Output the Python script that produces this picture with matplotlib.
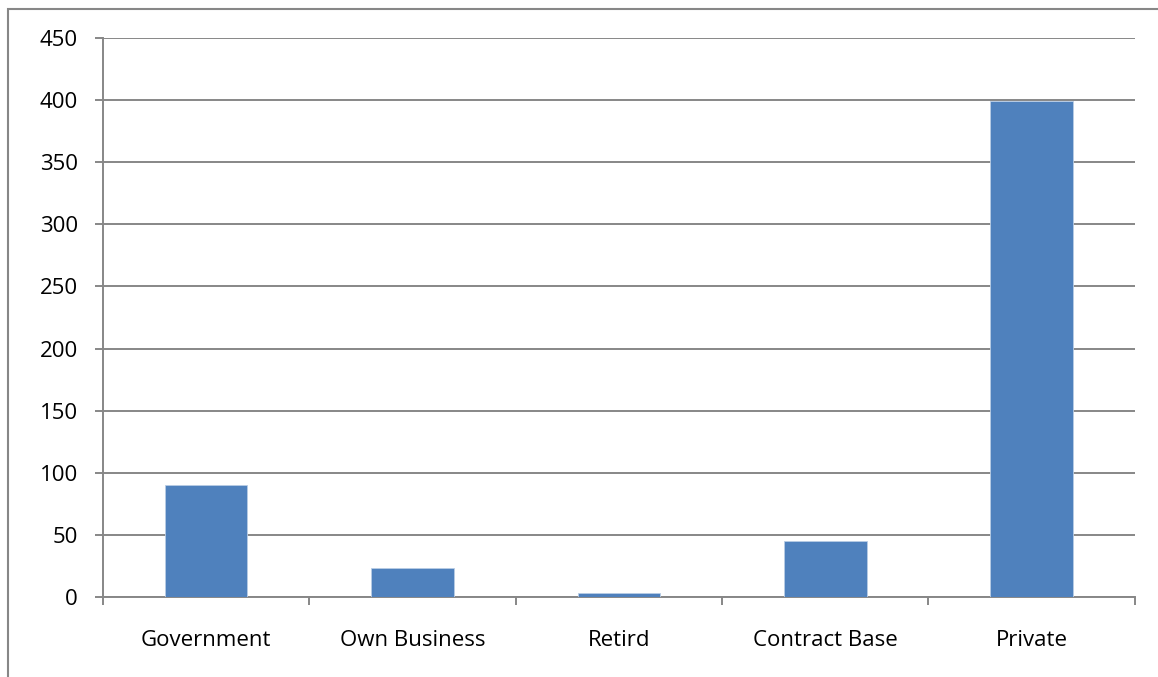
import numpy as np
import matplotlib.pyplot as plt
from matplotlib.patches import Rectangle

plt.rcParams['font.family'] = ['Open Sans', 'DejaVu Sans']

categories = ['Government', 'Own Business', 'Retird', 'Contract Base', 'Private']
counts = [90, 23, 3, 45, 399]

grey = '#878787'
bar_color = '#4f81bd'

fig = plt.figure(figsize=(11.58, 6.77), dpi=100)
ax = fig.add_axes([0.0889, 0.1182, 0.8911, 0.8257])

# outer chart frame
fig.patches.append(Rectangle((8 / 1158, -0.05), 1.2, 1 - 9 / 677 + 0.05,
                             transform=fig.transFigure, fill=False,
                             edgecolor=grey, linewidth=1.5))

x = np.arange(len(categories))
ax.bar(x, counts, width=0.4, color=bar_color, edgecolor='#b9cde5', linewidth=0.6, zorder=3)

ax.set_xlim(-0.5, len(categories) - 0.5)
ax.set_ylim(0, 450)
ax.set_yticks(np.arange(0, 451, 50))
ax.yaxis.grid(True, color=grey, linewidth=1.4, zorder=0)

ax.set_xticks(x)
ax.set_xticklabels(categories)
ax.set_xticks(np.arange(-0.5, len(categories), 1), minor=True)
ax.tick_params(axis='x', which='major', length=0, pad=24, labelsize=16)
ax.tick_params(axis='x', which='minor', length=6, width=1.4, color=grey, direction='out')
ax.tick_params(axis='y', length=6, width=1.4, color=grey, pad=12, labelsize=16)

for side in ['top', 'right']:
    ax.spines[side].set_visible(False)
for side in ['left', 'bottom']:
    ax.spines[side].set_color(grey)
    ax.spines[side].set_linewidth(1.4)

fig.savefig('out.png', dpi=100)
